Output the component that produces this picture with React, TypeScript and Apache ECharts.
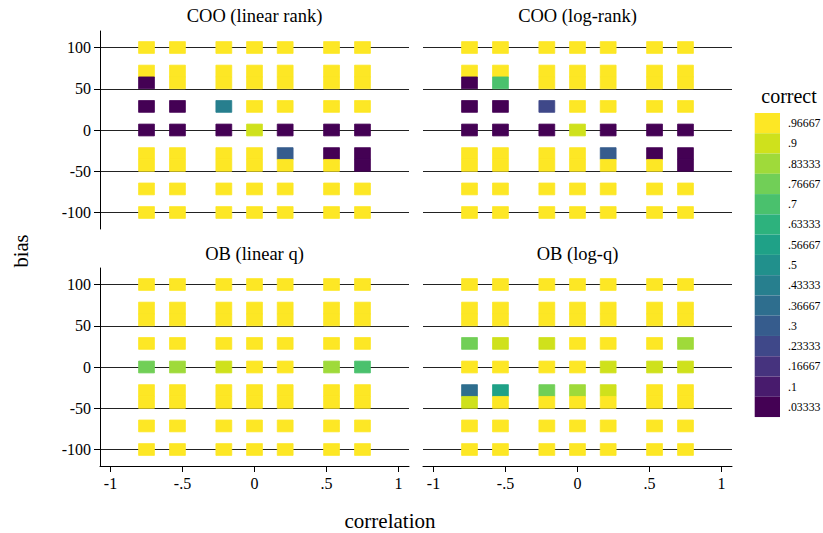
import React, { useEffect, useRef } from 'react';
import * as echarts from 'echarts';

// ---------- data ----------
const correlations = [-0.75, -0.535, -0.213, 0, 0.213, 0.535, 0.75];
const biases = [100, 71.43, 57.14, 28.57, 0, -28.57, -42.86, -71.43, -100];

const Y = 0.96667;
const P = 0.03333;

// rows follow `biases` (top to bottom), columns follow `correlations`
const cooLinearRank = [
  [Y, Y, Y, Y, Y, Y, Y],
  [Y, Y, Y, Y, Y, Y, Y],
  [P, Y, Y, Y, Y, Y, Y],
  [P, P, 0.43333, Y, Y, Y, Y],
  [P, P, P, 0.9, P, P, P],
  [Y, Y, Y, Y, 0.3, P, P],
  [Y, Y, Y, Y, Y, Y, P],
  [Y, Y, Y, Y, Y, Y, Y],
  [Y, Y, Y, Y, Y, Y, Y],
];
const cooLogRank = [
  [Y, Y, Y, Y, Y, Y, Y],
  [Y, Y, Y, Y, Y, Y, Y],
  [P, 0.7, Y, Y, Y, Y, Y],
  [P, P, 0.23333, Y, Y, Y, Y],
  [P, P, P, 0.9, P, P, P],
  [Y, Y, Y, Y, 0.3, P, P],
  [Y, Y, Y, Y, Y, Y, P],
  [Y, Y, Y, Y, Y, Y, Y],
  [Y, Y, Y, Y, Y, Y, Y],
];
const obLinearQ = [
  [Y, Y, Y, Y, Y, Y, Y],
  [Y, Y, Y, Y, Y, Y, Y],
  [Y, Y, Y, Y, Y, Y, Y],
  [Y, Y, Y, Y, Y, Y, Y],
  [0.76667, 0.83333, 0.9, Y, Y, 0.83333, 0.7],
  [Y, Y, Y, Y, Y, Y, Y],
  [Y, Y, Y, Y, Y, Y, Y],
  [Y, Y, Y, Y, Y, Y, Y],
  [Y, Y, Y, Y, Y, Y, Y],
];
const obLogQ = [
  [Y, Y, Y, Y, Y, Y, Y],
  [Y, Y, Y, Y, Y, Y, Y],
  [Y, Y, Y, Y, Y, Y, Y],
  [0.76667, 0.9, 0.9, Y, Y, Y, 0.83333],
  [Y, Y, Y, Y, 0.9, 0.9, 0.9],
  [0.36667, 0.56667, 0.76667, 0.83333, 0.9, Y, Y],
  [0.9, Y, Y, Y, Y, Y, Y],
  [Y, Y, Y, Y, Y, Y, Y],
  [Y, Y, Y, Y, Y, Y, Y],
];

const panelTitles = ['COO (linear rank)', 'COO (log-rank)', 'OB (linear q)', 'OB (log-q)'];
const panelData = [cooLinearRank, cooLogRank, obLinearQ, obLogQ];

const xTicks = [-1, -0.5, 0, 0.5, 1];
const yTicks = [-100, -50, 0, 50, 100];

const legendLabels = [
  '.03333', '.1', '.16667', '.23333', '.3', '.36667', '.43333', '.5',
  '.56667', '.63333', '.7', '.76667', '.83333', '.9', '.96667',
];
const viridis15 = [
  '#440154', '#481B6D', '#46337E', '#3F4889', '#365C8D', '#2E6E8E', '#277F8E', '#21908C',
  '#1FA187', '#2DB27D', '#4AC16D', '#71CF57', '#9FDA3A', '#CFE11C', '#FDE725',
];

// ---------- layout ----------
const FONT = 'Liberation Serif';
const CELL_W = 0.11; // correlation units
const CELL_H = 14.286; // bias units
const LEG_TOP = 113;
const LEG_ITEM_H = 20.27;
const grids = [
  { left: 100, top: 31, width: 309, height: 198 },
  { left: 423, top: 31, width: 309, height: 198 },
  { left: 100, top: 268, width: 309, height: 198 },
  { left: 423, top: 268, width: 309, height: 198 },
];

const fmtTick = (v: number) => (v === 0 ? '0' : String(v).replace('0.', '.'));

export default function App() {
  const ref = useRef<HTMLDivElement>(null);

  useEffect(() => {
    if (!ref.current) return;
    const chart = echarts.init(ref.current, undefined, { renderer: 'svg' });

    const rich = { t: { fontSize: 16, fontFamily: FONT, color: '#000' } };

    const xAxis = grids.map((_, i) => {
      const show = i >= 2;
      return {
        type: 'value',
        gridIndex: i,
        min: -1.073,
        max: 1.073,
        axisLine: { show, onZero: false, lineStyle: { color: '#000', width: 1 } },
        axisTick: { show, length: 6, customValues: xTicks, lineStyle: { color: '#000', width: 1 } },
        axisLabel: {
          show,
          customValues: xTicks,
          formatter: (v: number) => `{t|${fmtTick(v)}}`,
          margin: 9,
          fontSize: 16,
          fontFamily: FONT,
          color: '#000',
          rich,
        },
        splitLine: { show: false },
      };
    });

    const yAxis = grids.map((_, i) => {
      const show = i % 2 === 0;
      return {
        type: 'value',
        gridIndex: i,
        min: -120,
        max: 120,
        axisLine: { show, onZero: false, lineStyle: { color: '#000', width: 1 } },
        axisTick: { show, length: 6, customValues: yTicks, lineStyle: { color: '#000', width: 1 } },
        axisLabel: {
          show,
          customValues: yTicks,
          formatter: (v: number) => `{t|${fmtTick(v)}}`,
          margin: 9,
          fontSize: 16,
          fontFamily: FONT,
          color: '#000',
          rich,
        },
        splitLine: { show: true, lineStyle: { color: '#222', width: 1.2 } },
      };
    });

    const series = panelData.map((rows, i) => ({
      type: 'custom',
      xAxisIndex: i,
      yAxisIndex: i,
      z: 3,
      data: rows.flatMap((row, r) => row.map((v, c) => [correlations[c], biases[r], v])),
      encode: { x: 0, y: 1 },
      renderItem: (params: any, api: any) => {
        const x = api.value(0);
        const y = api.value(1);
        const p1 = api.coord([x - CELL_W / 2, y + CELL_H / 2]);
        const p2 = api.coord([x + CELL_W / 2, y - CELL_H / 2]);
        const color = api.visual('color');
        return {
          type: 'rect',
          shape: { x: p1[0], y: p1[1], width: p2[0] - p1[0], height: p2[1] - p1[1] },
          style: { fill: color, stroke: color, lineWidth: 0.8 },
        };
      },
    }));

    const titleCenters = [
      [254.5, 16],
      [577.5, 16],
      [254.5, 253.5],
      [577.5, 253.5],
    ];

    const graphic: any[] = panelTitles.map((t, i) => ({
      type: 'text',
      x: titleCenters[i][0],
      y: titleCenters[i][1],
      style: { text: t, fontSize: 18.5, fontFamily: FONT, fill: '#000', align: 'center', verticalAlign: 'middle' },
    }));
    graphic.push(
      {
        type: 'text',
        x: 20.5,
        y: 251,
        rotation: Math.PI / 2,
        style: { text: 'bias', fontSize: 20.5, fontFamily: FONT, fill: '#000', align: 'center', verticalAlign: 'middle' },
      },
      {
        type: 'text',
        x: 390,
        y: 521,
        style: { text: 'correlation', fontSize: 21, fontFamily: FONT, fill: '#000', align: 'center', verticalAlign: 'middle' },
      },
      {
        type: 'text',
        x: 789,
        y: 96,
        style: { text: 'correct', fontSize: 20, fontFamily: FONT, fill: '#000', align: 'center', verticalAlign: 'middle' },
      }
    );
    // legend labels (highest bin on top)
    legendLabels.forEach((lab, i) => {
      const row = legendLabels.length - 1 - i;
      graphic.push({
        type: 'text',
        x: 788,
        y: LEG_TOP + LEG_ITEM_H * (row + 0.5),
        style: { text: lab, fontSize: 11.8, fontFamily: FONT, fill: '#000', align: 'left', verticalAlign: 'middle' },
      });
    });

    chart.setOption({
      animation: false,
      backgroundColor: '#fff',
      textStyle: { fontFamily: FONT },
      grid: grids.map((g) => ({ ...g, containLabel: false })),
      xAxis,
      yAxis,
      series,
      visualMap: {
        type: 'piecewise',
        seriesIndex: [0, 1, 2, 3],
        dimension: 2,
        orient: 'vertical',
        align: 'left',
        left: 754.7,
        top: LEG_TOP,
        padding: 0,
        itemWidth: 25.3,
        itemHeight: LEG_ITEM_H,
        itemGap: 0,
        itemSymbol: 'rect',
        showLabel: false,
        selectedMode: false,
        pieces: legendLabels.map((lab, i) => ({
          min: i / 15,
          max: (i + 1) / 15,
          label: lab,
          color: viridis15[i],
        })),
      },
      graphic,
    });

    return () => chart.dispose();
  }, []);

  return (
    <div
      ref={ref}
      style={{ position: 'absolute', left: 0, top: 0, width: 823, height: 533, background: '#fff' }}
    />
  );
}
